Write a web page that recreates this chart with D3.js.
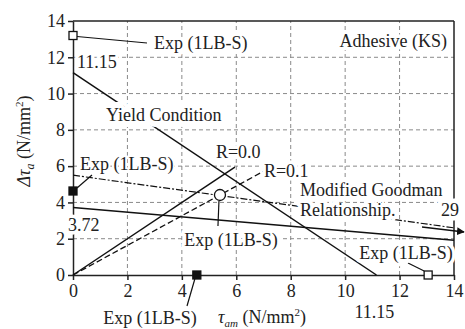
<!DOCTYPE html>
<html>
<head>
<meta charset="utf-8">
<script src="https://cdn.jsdelivr.net/npm/d3@7/dist/d3.min.js"></script>
</head>
<body style="margin:0">
<svg id="fig" width="465" height="329"></svg>
<script>
// Axis ticks
const xTicks = [0, 2, 4, 6, 8, 10, 12, 14];
const yTicks = [0, 2, 4, 6, 8, 10, 12, 14];

// Lines (tau_am, delta tau_a)
const yieldLine   = [[0, 11.15], [11.15, 0]];
const lowerLine   = [[0, 3.72], [14, 1.92]];     // heads toward tau_am = 29
const goodmanLine = [[0, 5.5], [14, 2.6]];
const rZeroLine   = [[0, 0], [5.95, 5.95]];
const rTenthLine  = [[0, 0], [6.98, 5.7]];

// Experimental points
const expOpenSquares   = [[0, 13.2], [13.05, 0]];
const expFilledSquares = [[0, 4.63], [4.55, 0]];
const expOpenCircles   = [[5.4, 4.41]];

const FS = 18;
const FONT = '"Liberation Serif"';
const svg = d3.select("#fig");

const x = d3.scaleLinear().domain([0, 14]).range([73, 454]);
const y = d3.scaleLinear().domain([0, 14]).range([275, 21]);

// grid
const grid = svg.append("g").attr("stroke", "#8a8a8a").attr("stroke-width", 1)
  .attr("stroke-dasharray", "4,3");
grid.selectAll("line.v").data(xTicks.filter(d => d > 0 && d < 14)).join("line")
  .attr("x1", d => x(d)).attr("x2", d => x(d)).attr("y1", y(0)).attr("y2", y(14));
grid.selectAll("line.h").data(yTicks.filter(d => d > 0 && d < 14)).join("line")
  .attr("class", "h")
  .attr("x1", x(0)).attr("x2", x(14)).attr("y1", d => y(d)).attr("y2", d => y(d));

// frame top / right
svg.append("line").attr("x1", x(0)).attr("x2", x(14)).attr("y1", y(14)).attr("y2", y(14))
  .attr("stroke", "#222").attr("stroke-width", 1.5);
svg.append("line").attr("x1", x(14)).attr("x2", x(14)).attr("y1", y(14)).attr("y2", y(0))
  .attr("stroke", "#222").attr("stroke-width", 1.5);

// axes
const xAxis = svg.append("g").attr("transform", `translate(0,${y(0)})`)
  .call(d3.axisBottom(x).tickValues(xTicks).tickSizeInner(5).tickSizeOuter(0).tickPadding(4));
const yAxis = svg.append("g").attr("transform", `translate(${x(0)},0)`)
  .call(d3.axisLeft(y).tickValues(yTicks).tickSizeInner(5).tickSizeOuter(0).tickPadding(3));
[xAxis, yAxis].forEach(a => {
  a.attr("font-size", FS).attr("font-family", null).style("font-family", FONT);
  a.selectAll("path, line").attr("stroke", "#222").attr("stroke-width", 1.5);
  a.selectAll("text").attr("fill", "#222").style("font-family", FONT);
});

const line = d3.line().x(d => x(d[0])).y(d => y(d[1]));
const lines = svg.append("g").attr("fill", "none").attr("stroke", "#111");
lines.append("path").attr("d", line(yieldLine)).attr("stroke-width", 1.5);
lines.append("path").attr("d", line(lowerLine)).attr("stroke-width", 1.5);
lines.append("path").attr("d", line(goodmanLine)).attr("stroke-width", 1.2)
  .attr("stroke-dasharray", "7,2,2,2");
lines.append("path").attr("d", line(rZeroLine)).attr("stroke-width", 1.5);
lines.append("path").attr("d", line(rTenthLine)).attr("stroke-width", 1.3)
  .attr("stroke-dasharray", "6,3");

// labels drawn with a white halo so lines break behind them
function label(str, px, py, anchor = "start", halo = 7) {
  return svg.append("text").attr("x", px).attr("y", py).attr("font-size", FS)
    .style("font-family", FONT).attr("text-anchor", anchor).attr("fill", "#222")
    .attr("stroke", "#fff").attr("stroke-width", halo).attr("stroke-linejoin", "round")
    .attr("paint-order", "stroke").text(str);
}

// leader lines
const leaders = svg.append("g").attr("stroke", "#111").attr("stroke-width", 1.2);
function leader(x1, y1, x2, y2) {
  leaders.append("line").attr("x1", x1).attr("y1", y1).attr("x2", x2).attr("y2", y2);
}

label("Adhesive (KS)", 447, 47, "end");
label("Exp (1LB-S)", 154, 49);
leader(x(0) + 4, y(13.2) + 1, 147, 43);
label("11.15", 77, 68);
label("Yield Condition", 106, 121, "start", 12);
label("Exp (1LB-S)", 80, 170, "start", 4);
leader(x(0) + 4, y(4.63) - 3, 92, 175);
label("R=0.0", x(5.95) - 19, 158);
label("R=0.1", x(6.98) + 1, 177);
label("Modified Goodman", 300, 196);
label("Relationship.", 300, 216, "start", 8);
label("29", 450, 216, "middle", 9);
label("3.72", 68, 231);
label("Exp (1LB-S)", x(5.4) + 11, 246, "middle");
leader(x(5.4) - 1, y(4.41) + 6, x(5.4) - 2, 226);
label("Exp (1LB-S)", 406, 259, "middle");
leader(408, 263, x(13.05) - 4, y(0) - 4);
label("11.15", x(11.15) - 2, 318, "middle");
label("Exp (1LB-S)", 150, 324, "middle");
leader(x(4.55) - 2, y(0) + 4, 187, 306);

// arrow toward tau_am = 29
svg.append("defs").append("marker").attr("id", "arrowHead")
  .attr("viewBox", "0 0 10 10").attr("refX", 9).attr("refY", 5)
  .attr("markerWidth", 6).attr("markerHeight", 6).attr("orient", "auto")
  .append("path").attr("d", "M0,0 L10,5 L0,10 z").attr("fill", "#111");
svg.append("line").attr("x1", 422).attr("y1", 227).attr("x2", 464).attr("y2", 232)
  .attr("stroke", "#111").attr("stroke-width", 1.3).attr("marker-end", "url(#arrowHead)");

// markers
const marks = svg.append("g").attr("stroke", "#111").attr("stroke-width", 1.3);
const S = 8;
marks.selectAll("rect.open").data(expOpenSquares).join("rect")
  .attr("x", d => x(d[0]) - S / 2).attr("y", d => y(d[1]) - S / 2)
  .attr("width", S).attr("height", S).attr("fill", "#fff");
marks.selectAll("rect.filled").data(expFilledSquares).join("rect")
  .attr("class", "filled")
  .attr("x", d => x(d[0]) - S / 2).attr("y", d => y(d[1]) - S / 2)
  .attr("width", S).attr("height", S).attr("fill", "#111");
marks.selectAll("circle").data(expOpenCircles).join("circle")
  .attr("cx", d => x(d[0])).attr("cy", d => y(d[1])).attr("r", 5.5).attr("fill", "#fff");

// axis titles
const yt = svg.append("text").attr("transform", "translate(30,141) rotate(-90)")
  .attr("text-anchor", "middle").attr("font-size", FS).style("font-family", FONT).attr("fill", "#222");
yt.append("tspan").attr("font-style", "italic").text("\u0394\u03c4");
yt.append("tspan").attr("font-style", "italic").attr("font-size", 12).attr("dy", 4).text("a");
yt.append("tspan").attr("dy", -4).text(" (N/mm");
yt.append("tspan").attr("font-size", 11).attr("dy", -7).text("2");
yt.append("tspan").attr("dy", 7).text(")");

const xt = svg.append("text").attr("x", 218).attr("y", 323).attr("font-size", FS)
  .style("font-family", FONT).attr("fill", "#222");
xt.append("tspan").attr("font-style", "italic").text("\u03c4");
xt.append("tspan").attr("font-style", "italic").attr("font-size", 11).attr("dy", 4).text("am");
xt.append("tspan").attr("dy", -4).text(" (N/mm");
xt.append("tspan").attr("font-size", 11).attr("dy", -7).text("2");
xt.append("tspan").attr("dy", 7).text(")");
</script>
</body>
</html>
